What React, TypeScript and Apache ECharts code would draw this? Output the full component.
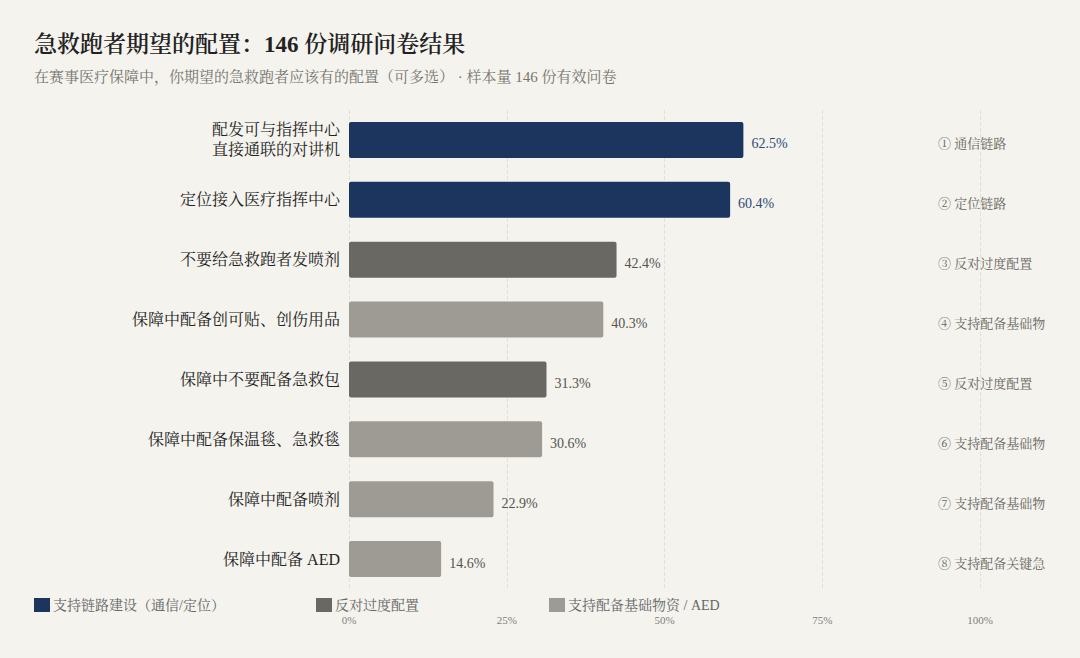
import React, { useEffect, useRef } from "react";
import * as echarts from "echarts";

const categories = [
  "配发可与指挥中心\n直接通联的对讲机",
  "定位接入医疗指挥中心",
  "不要给急救跑者发喷剂",
  "保障中配备创可贴、创伤用品",
  "保障中不要配备急救包",
  "保障中配备保温毯、急救毯",
  "保障中配备喷剂",
  "保障中配备 AED",
];
const values = [62.5, 60.4, 42.4, 40.3, 31.3, 30.6, 22.9, 14.6];
const groupOf = [0, 0, 1, 2, 1, 2, 2, 2];
const groupNames = ["支持链路建设（通信/定位）", "反对过度配置", "支持配备基础物资 / AED"];
const notes = [
  "① 通信链路",
  "② 定位链路",
  "③ 反对过度配置",
  "④ 支持配备基础物",
  "⑤ 反对过度配置",
  "⑥ 支持配备基础物",
  "⑦ 支持配备基础物",
  "⑧ 支持配备关键急",
];
const xTicks = [0, 25, 50, 75, 100];

const TITLE = "急救跑者期望的配置：146 份调研问卷结果";
const SUBTITLE = "在赛事医疗保障中，你期望的急救跑者应该有的配置（可多选） · 样本量 146 份有效问卷";

const COLORS = ["#1c355e", "#6a6862", "#9e9b94"];
const LABEL_COLORS = ["#2c4a78", "#555350", "#555350"];
const FONT = '"Liberation Serif", "Noto Serif CJK SC", "Noto Sans CJK SC", serif';

export default function App() {
  const ref = useRef<HTMLDivElement>(null);
  useEffect(() => {
    if (!ref.current) return;
    const chart = echarts.init(ref.current, undefined, { renderer: "svg" });
    const legendLefts = [34, 316, 549];
    const series = groupNames.map((name, g) => ({
      name,
      type: "bar",
      stack: "all",
      barWidth: 36,
      itemStyle: { color: COLORS[g], borderRadius: 2 },
      label: {
        show: true,
        position: "right",
        distance: 8,
        offset: [0, 4],
        color: LABEL_COLORS[g],
        fontSize: 14,
        fontFamily: FONT,
        formatter: (p: any) => `${Number(p.value).toFixed(1)}%`,
      },
      data: values.map((v, i) => (groupOf[i] === g ? v : null)),
    }));
    chart.setOption({
      animation: false,
      backgroundColor: "#f4f3ee",
      textStyle: { fontFamily: FONT },
      title: [
        {
          text: TITLE,
          left: 34,
          top: 33,
          padding: 0,
          textStyle: { fontSize: 23, fontWeight: 600, color: "#222", fontFamily: FONT },
        },
        {
          text: SUBTITLE,
          left: 34,
          top: 69,
          padding: 0,
          textStyle: { fontSize: 15, fontWeight: "normal", color: "#77756f", fontFamily: FONT },
        },
      ],
      legend: groupNames.map((name, g) => ({
        data: [name],
        left: legendLefts[g],
        top: 598,
        padding: 0,
        icon: "rect",
        itemWidth: 16,
        itemHeight: 14,
        itemGap: 7,
        selectedMode: false,
        textStyle: { fontSize: 14, color: "#666", fontFamily: FONT, padding: [0, 0, 0, -2] },
      })),
      grid: { left: 349, right: 100, top: 110, bottom: 69 },
      xAxis: {
        type: "value",
        min: 0,
        max: 100,
        interval: 25,
        axisLine: { show: false },
        axisTick: { show: false },
        axisLabel: {
          margin: 25,
          fontSize: 11,
          color: "#808080",
          fontFamily: FONT,
          formatter: (v: number) => (xTicks.includes(v) ? `${v}%` : ""),
        },
        splitLine: { show: true, lineStyle: { color: "#e2e0d9", type: "dashed", width: 1 } },
      },
      yAxis: [
        {
          type: "category",
          data: categories,
          inverse: true,
          axisLine: { show: false },
          axisTick: { show: false },
          axisLabel: {
            margin: 9,
            fontSize: 16,
            color: "#222",
            lineHeight: 20,
            fontFamily: FONT,
          },
        },
        {
          type: "category",
          data: notes,
          inverse: true,
          position: "right",
          offset: -42,
          axisLine: { show: false },
          axisTick: { show: false },
          axisLabel: {
            margin: 0,
            fontSize: 13,
            color: "#666460",
            fontFamily: FONT,
            align: "left",
            verticalAlign: "top",
            lineHeight: 8,
          },
        },
      ],
      series,
    });
    return () => chart.dispose();
  }, []);
  return (
    <div
      ref={ref}
      style={{ position: "fixed", left: 0, top: 0, width: 1080, height: 658, background: "#f4f3ee" }}
    />
  );
}
